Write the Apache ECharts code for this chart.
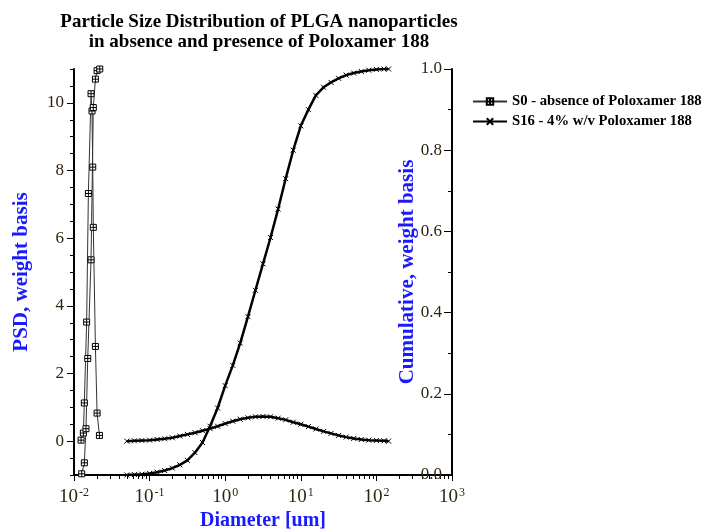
<!DOCTYPE html>
<html><head><meta charset="utf-8">
<script src="https://cdn.jsdelivr.net/npm/echarts@6/dist/echarts.min.js"></script>
<style>html,body{margin:0;padding:0;background:#fff}#c{width:706px;height:529px}</style>
</head><body><div id="c"></div>
<script>
// ---- data ----
const titleText = 'Particle Size Distribution of PLGA nanoparticles\nin absence and presence of Poloxamer 188';
const seriesNames = ['S0 - absence of Poloxamer 188', 'S16 - 4% w/v Poloxamer 188'];
// S0 (narrow peak)
const s0PsdX = [0.0124,0.0133,0.0137,0.0147,0.0155,0.0168,0.0173,0.0177,0.0180,0.0192,0.0202,0.0217];
const s0PsdY = [0.03,0.24,1.13,3.52,7.32,10.27,9.76,8.1,6.32,2.8,0.83,0.17];
const s0CumX = [0.01265,0.0137,0.0144,0.0152,0.0168,0.0180,0.0192,0.0202,0.0219];
const s0CumY = [0.003,0.03,0.114,0.287,0.53,0.905,0.975,0.996,1.0];
// S16 (broad distribution)
const s16X = [0.05,0.063,0.079,0.1,0.126,0.158,0.2,0.251,0.316,0.398,0.501,0.631,0.794,1,1.26,1.58,2,2.51,3.16,3.98,5.01,6.31,7.94,10,12.6,15.8,20,25.1,31.6,39.8,50.1,63.1,79.4,100,126,145];
const s16Psd = [0.00,0.01,0.02,0.03,0.05,0.07,0.10,0.15,0.20,0.25,0.31,0.37,0.44,0.52,0.59,0.65,0.69,0.72,0.73,0.72,0.68,0.63,0.56,0.50,0.43,0.36,0.29,0.23,0.17,0.12,0.08,0.05,0.03,0.02,0.01,0.00];
const s16Cum = [0.0,0.001,0.002,0.004,0.007,0.011,0.017,0.025,0.036,0.055,0.08,0.12,0.165,0.22,0.27,0.325,0.39,0.455,0.52,0.585,0.655,0.73,0.80,0.86,0.90,0.935,0.955,0.967,0.977,0.985,0.99,0.994,0.997,0.999,1.0,1.0];
// axis ticks
const xMajor = [0.01,0.1,1,10,100,1000];
const leftLabels = [0,2,4,6,8,10];
const rightLabels = [0,0.2,0.4,0.6,0.8,1.0];

const serif = "'Liberation Serif','DejaVu Serif',serif";
const labColor = '#2e2410';
const blue = '#1a1aff';

const xMinor = [];
xMajor.slice(0,-1).forEach(d => { for (let k=2;k<=9;k++) xMinor.push(+(d*k).toPrecision(3)); });
const leftMinor = []; for (let v=-1; v<=11.001; v+=0.5) leftMinor.push(+v.toFixed(1));
const rightMinor = []; for (let v=0; v<=1.0001; v+=0.1) rightMinor.push(+v.toFixed(1));

const zip = (a,b) => a.map((v,i)=>[v,b[i]]);
const boxSym = 'path://M0,0 L10,0 L10,10 L0,10 Z M5,0 L5,10 M0,5 L10,5';
const xSym = 'path://M0,0 L10,10 M10,0 L0,10';

const chart = echarts.init(document.getElementById('c'));
chart.setOption({
  animation: false,
  backgroundColor: '#fff',
  title: { text: titleText, left: 254, top: 7, textAlign: 'center',
    textStyle: { fontFamily: serif, fontWeight: 'bold', fontSize: 19, color: '#000', lineHeight: 20 } },
  legend: { data: seriesNames, orient: 'vertical', left: 467, top: 89, itemGap: 5,
    itemWidth: 34, itemHeight: 8,
    textStyle: { fontFamily: serif, fontWeight: 'bold', fontSize: 14.7, color: '#000' } },
  grid: { left: 74, right: 254, top: 69, bottom: 54, containLabel: false, outerBoundsMode: 'none' },
  xAxis: [
    { type: 'log', logBase: 10, min: 0.01, max: 1000,
      name: 'Diameter [um]', nameLocation: 'middle', nameGap: 36, nameMoveOverlap: false,
      nameTextStyle: { fontFamily: serif, fontWeight: 'bold', fontSize: 20, color: blue },
      axisLine: { show: true, onZero: false, lineStyle: { color: '#000', width: 2 } },
      axisTick: { show: true, length: 6, lineStyle: { color: '#000' }, customValues: xMajor },
      axisLabel: { show: true, margin: 12, customValues: xMajor,
        formatter: v => '{b|10}{s|' + Math.round(Math.log10(v)) + '}',
        rich: { b: { fontFamily: serif, fontSize: 19, color: labColor },
                s: { fontFamily: serif, fontSize: 12, color: labColor, verticalAlign: 'top', padding: [0,0,9,1] } } },
      splitLine: { show: false }, minorTick: { show: false } },
    { type: 'log', logBase: 10, min: 0.01, max: 1000, position: 'bottom',
      axisLine: { show: false, onZero: false },
      axisTick: { show: true, length: 4, lineStyle: { color: '#000' }, customValues: xMinor },
      axisLabel: { show: false }, splitLine: { show: false } }
  ],
  yAxis: [
    { type: 'value', min: -1, max: 11, position: 'left',
      name: 'PSD, weight basis', nameLocation: 'middle', nameGap: 42, nameRotate: 90, nameMoveOverlap: false,
      nameTextStyle: { fontFamily: serif, fontWeight: 'bold', fontSize: 21, color: blue },
      axisLine: { show: true, onZero: false, lineStyle: { color: '#000', width: 2 } },
      axisTick: { show: true, length: 7, lineStyle: { color: '#000' }, customValues: leftLabels },
      axisLabel: { show: true, margin: 10, customValues: leftLabels,
        fontFamily: serif, fontSize: 17, color: labColor },
      splitLine: { show: false } },
    { type: 'value', min: 0, max: 1, position: 'right',
      name: 'Cumulative, weight basis', nameLocation: 'middle', nameGap: -55, nameRotate: 90, nameMoveOverlap: false,
      nameTextStyle: { fontFamily: serif, fontWeight: 'bold', fontSize: 21, color: blue },
      axisLine: { show: true, onZero: false, lineStyle: { color: '#000', width: 2 } },
      axisTick: { show: true, inside: true, length: 8, lineStyle: { color: '#000' }, customValues: rightLabels },
      axisLabel: { show: true, inside: true, margin: 10, customValues: rightLabels,
        formatter: v => v.toFixed(1), fontFamily: serif, fontSize: 17, color: labColor },
      splitLine: { show: false } },
    { type: 'value', min: -1, max: 11, position: 'left',
      axisLine: { show: false, onZero: false },
      axisTick: { show: true, length: 4, lineStyle: { color: '#000' }, customValues: leftMinor },
      axisLabel: { show: false }, splitLine: { show: false } },
    { type: 'value', min: 0, max: 1, position: 'right',
      axisLine: { show: false, onZero: false },
      axisTick: { show: true, inside: true, length: 4, lineStyle: { color: '#000' }, customValues: rightMinor },
      axisLabel: { show: false }, splitLine: { show: false } }
  ],
  series: [
    { name: seriesNames[0], type: 'line', xAxisIndex: 0, yAxisIndex: 0, data: zip(s0PsdX, s0PsdY),
      symbol: boxSym, symbolSize: 6, lineStyle: { color: '#333', width: 1 },
      itemStyle: { color: '#fff', borderColor: '#000', borderWidth: 1 } },
    { name: seriesNames[0], type: 'line', xAxisIndex: 0, yAxisIndex: 1, data: zip(s0CumX, s0CumY),
      symbol: boxSym, symbolSize: 6, lineStyle: { color: '#333', width: 1 },
      itemStyle: { color: '#fff', borderColor: '#000', borderWidth: 1 } },
    { name: seriesNames[1], type: 'line', xAxisIndex: 0, yAxisIndex: 0, data: zip(s16X, s16Psd),
      symbol: xSym, symbolSize: 5, lineStyle: { color: '#000', width: 2.5 },
      itemStyle: { color: 'none', borderColor: '#000', borderWidth: 1 } },
    { name: seriesNames[1], type: 'line', xAxisIndex: 0, yAxisIndex: 1, data: zip(s16X, s16Cum),
      symbol: xSym, symbolSize: 5, lineStyle: { color: '#000', width: 2.5 },
      itemStyle: { color: 'none', borderColor: '#000', borderWidth: 1 } }
  ]
});
</script></body></html>
